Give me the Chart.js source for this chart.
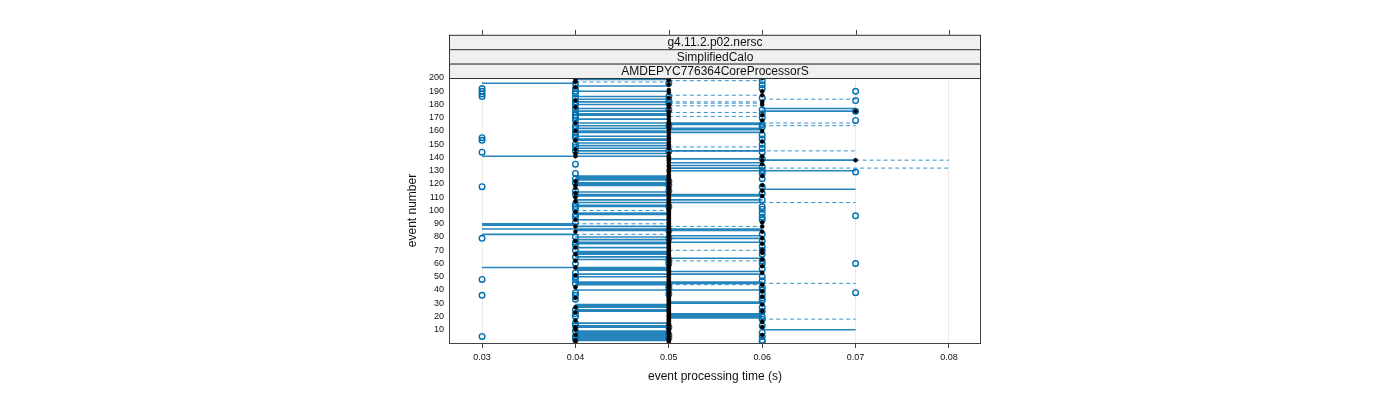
<!DOCTYPE html>
<html>
<head>
<meta charset="utf-8">
<script src="https://cdn.jsdelivr.net/npm/chart.js@4/dist/chart.umd.min.js"></script>
<style>
  html, body { margin: 0; padding: 0; background: #fff; }
  #wrap { width: 1400px; height: 400px; }
</style>
</head>
<body>
<div id="wrap"><canvas id="myChart" width="1400" height="400"></canvas></div>
<script>
// ---- data (event numbers) ----
const stripLabels = ['g4.11.2.p02.nersc', 'SimplifiedCalo', 'AMDEPYC776364CoreProcessorS'];
const xTicks = [0.03, 0.04, 0.05, 0.06, 0.07, 0.08];
const yTicks = [10, 20, 30, 40, 50, 60, 70, 80, 90, 100, 110, 120, 130, 140, 150, 160, 170, 180, 190, 200];

// solid / dashed ranges, by event number
const solid34 = [196, 141, 90, 89, 86, 82, 57];
const solid45 = [199, 194, 190, 186, 184, 182, 180, 177, 175, 173, 172, 169, 166, 164, 162, 160, 159, 156, 154, 153,
  151, 149, 147, 145, 143, 141, 126, 125, 124, 123, 121, 120, 119, 114, 112, 111, 108, 106, 104, 103, 98, 97, 93, 88,
  86, 85, 80, 78, 76, 75, 72, 69, 68, 67, 65, 63, 57, 56, 55, 52, 50, 46, 45, 44, 40, 29, 28, 27, 25, 24, 15, 13, 12,
  9, 8, 7, 6, 5, 4, 3, 2];
const dashed45 = [197, 100, 90, 82];
const solid56 = [166, 165, 162, 161, 159, 145, 139, 136, 134, 132, 130, 112, 111, 108, 106, 86, 85, 81, 79, 76, 64,
  54, 52, 46, 45, 40, 31, 30, 22, 21, 20, 19];
const dashed56 = [198, 187, 182, 181, 179, 174, 171, 148, 88, 70, 62, 44];
const dashed57 = [145];
const solid67 = [177, 175, 138, 130, 116, 10];
const dashed67 = [184, 166, 164, 106, 45, 18];
const dashed78 = [138];
const dashed68 = [132];

// measured points
const open03 = [192, 190, 188, 186, 155, 153, 144, 118, 79, 48, 36, 5];
const open04 = [196, 192, 190, 188, 185, 182, 180, 177, 174, 172, 170, 168, 164, 162, 159, 157, 155, 150, 148, 145,
  135, 128, 124, 121, 115, 112, 105, 103, 101, 97, 95, 91, 80, 76, 74, 70, 65, 60, 53, 50, 48, 45, 38, 36, 33, 25,
  22, 20, 15, 13, 9, 5, 3];
const black04 = [199, 197, 193, 183, 178, 166, 160, 153, 146, 143, 141, 122, 119, 117, 113, 110, 107, 99, 93, 88,
  84, 77, 72, 67, 62, 57, 51, 42, 34, 27, 23, 17, 12, 10, 6, 2, 1];
const open05 = [196, 186, 183, 181, 176, 164, 145, 122, 119, 115, 103, 85, 79, 63, 60, 43, 41, 37, 12, 6, 4];
const black05 = [200, 199, 198, 195, 191, 189, 185, 180, 178, 175, 173, 171, 169, 167, 166, 165, 163, 161, 159, 157,
  155, 154, 152, 150, 149, 147, 143, 141, 140, 139, 138, 136, 134, 133, 131, 130, 129, 127, 126, 125, 124, 123, 121,
  120, 118, 117, 116, 114, 113, 112, 111, 110, 109, 108, 107, 106, 105, 104, 102, 101, 100, 99, 98, 97, 96, 95, 94,
  93, 92, 91, 90, 89, 88, 87, 86, 84, 83, 82, 81, 80, 78, 77, 76, 75, 74, 73, 72, 71, 70, 69, 68, 67, 66, 65, 64,
  62, 61, 59, 58, 57, 56, 55, 54, 53, 52, 51, 50, 49, 48, 47, 46, 45, 44, 42, 40, 39, 38, 36, 35, 34, 33, 32, 31,
  30, 29, 28, 27, 26, 25, 24, 23, 22, 21, 20, 19, 18, 17, 16, 15, 14, 13, 11, 10, 9, 8, 7, 5, 3, 2, 1];
const open06 = [198, 195, 192, 185, 176, 173, 170, 165, 163, 157, 154, 150, 147, 144, 139, 133, 130, 128, 124, 118,
  113, 108, 103, 101, 98, 95, 93, 82, 77, 73, 70, 67, 62, 60, 56, 50, 47, 42, 40, 37, 34, 32, 27, 24, 20, 18, 13, 8,
  5, 2, 1];
const black06 = [200, 190, 187, 182, 180, 172, 168, 160, 152, 141, 138, 135, 126, 119, 115, 111, 91, 88, 84, 79, 75,
  70, 68, 63, 58, 53, 44, 39, 35, 29, 24, 16, 12, 6];
const open07 = [190, 183, 175, 168, 129, 96, 60, 38];
const black07 = [175, 138];

// ---- helpers ----
function seg(events, x0, x1) {
  const out = [];
  events.forEach(e => {
    out.push({ x: x0, y: e }, { x: x1, y: e }, { x: x1, y: null });
  });
  return out;
}
function pts(events, x) {
  return events.map(e => ({ x: x, y: e }));
}

const blue = 'rgba(0,112,176,0.85)';
const blueDash = 'rgba(20,125,195,0.85)';

function lineSet(data, dashed) {
  return {
    type: 'line', data: data, order: 3,
    borderColor: dashed ? blueDash : blue,
    borderWidth: dashed ? 1 : 1.6,
    borderDash: dashed ? [4, 3] : [],
    pointRadius: 0, spanGaps: false, showLine: true
  };
}
function openSet(data) {
  return {
    type: 'scatter', data: data, order: 2,
    pointStyle: 'circle', pointRadius: 2.8,
    pointBorderColor: 'rgba(0,112,176,1)', pointBorderWidth: 1.4,
    pointBackgroundColor: 'rgba(255,255,255,0)'
  };
}
function blackSet(data) {
  return {
    type: 'scatter', data: data, order: 1,
    pointStyle: 'circle', pointRadius: 2,
    pointBorderColor: '#000', pointBorderWidth: 0.5,
    pointBackgroundColor: '#000'
  };
}

const datasets = [
  lineSet(seg(solid34, 0.03, 0.04), false),
  lineSet(seg(solid45, 0.04, 0.05), false),
  lineSet(seg(dashed45, 0.04, 0.05), true),
  lineSet(seg(solid56, 0.05, 0.06), false),
  lineSet(seg(dashed56, 0.05, 0.06), true),
  lineSet(seg(dashed57, 0.05, 0.07), true),
  lineSet(seg(solid67, 0.06, 0.07), false),
  lineSet(seg(dashed67, 0.06, 0.07), true),
  lineSet(seg(dashed78, 0.07, 0.08), true),
  lineSet(seg(dashed68, 0.06, 0.08), true),
  openSet(pts(open03, 0.03)),
  openSet(pts(open04, 0.04)),
  openSet(pts(open05, 0.05)),
  openSet(pts(open06, 0.06)),
  openSet(pts(open07, 0.07)),
  blackSet(pts(black04, 0.04)),
  blackSet(pts(black05, 0.05)),
  blackSet(pts(black06, 0.06)),
  blackSet(pts(black07, 0.07))
];

// strips, frame, top ticks and axis titles
const latticeDecor = {
  id: 'latticeDecor',
  afterDraw(chart) {
    const ctx = chart.ctx;
    const a = chart.chartArea;
    const xs = chart.scales.x;
    ctx.save();
    // frame
    ctx.strokeStyle = '#444';
    ctx.lineWidth = 1;
    ctx.strokeRect(a.left + 0.5, a.top + 0.5, a.right - a.left - 1, a.bottom - a.top);
    // strips
    const sh = 14.4;
    stripLabels.forEach((lab, i) => {
      const y0 = a.top - sh * (stripLabels.length - i);
      ctx.fillStyle = '#f0f0f0';
      ctx.fillRect(a.left, y0, a.right - a.left, sh);
      ctx.strokeStyle = '#333';
      ctx.strokeRect(a.left + 0.5, y0 + 0.5, a.right - a.left - 1, sh);
      ctx.fillStyle = '#111';
      ctx.font = '12px "Liberation Sans", Arial, sans-serif';
      ctx.textAlign = 'center';
      ctx.textBaseline = 'middle';
      ctx.fillText(lab, (a.left + a.right) / 2, y0 + sh / 2 + 1);
    });
    // top ticks
    const topY = a.top - sh * stripLabels.length;
    ctx.strokeStyle = '#444';
    xTicks.forEach(v => {
      const px = Math.round(xs.getPixelForValue(v)) + 0.5;
      ctx.beginPath();
      ctx.moveTo(px, topY);
      ctx.lineTo(px, topY - 5);
      ctx.stroke();
    });
    // axis titles
    ctx.fillStyle = '#111';
    ctx.font = '12px "Liberation Sans", Arial, sans-serif';
    ctx.textAlign = 'center';
    ctx.textBaseline = 'middle';
    ctx.fillText('event processing time (s)', (a.left + a.right) / 2, 377);
    ctx.translate(413, (a.top + a.bottom) / 2);
    ctx.rotate(-Math.PI / 2);
    ctx.fillText('event number', 0, 0);
    ctx.restore();
  }
};

const config = {
  type: 'scatter',
  data: { datasets },
  options: {
    responsive: false,
    animation: false,
    layout: { padding: { left: 409, right: 419, top: 78, bottom: 0 } },
    plugins: { legend: { display: false }, tooltip: { enabled: false } },
    scales: {
      x: {
        type: 'linear', min: 0.02646, max: 0.08343,
        afterBuildTicks: s => { s.ticks = xTicks.map(v => ({ value: v })); },
        afterFit: s => { s.height = 57; },
        border: { display: false },
        grid: { color: 'rgba(0,0,0,0.08)', tickColor: '#444', tickLength: 5, drawOnChartArea: true },
        ticks: {
          color: '#111', padding: 4, maxRotation: 0,
          font: { family: '"Liberation Sans", Arial, sans-serif', size: 9 },
          callback: v => v.toFixed(2)
        }
      },
      y: {
        type: 'linear', min: 0, max: 200,
        afterBuildTicks: s => { s.ticks = yTicks.map(v => ({ value: v })); },
        afterFit: s => { s.width = 40; },
        border: { display: false },
        grid: { display: false, drawTicks: false },
        ticks: {
          color: '#111', padding: 5,
          font: { family: '"Liberation Sans", Arial, sans-serif', size: 9 }
        }
      }
    }
  },
  plugins: [latticeDecor]
};

const myChart = new Chart(document.getElementById('myChart'), config);
</script>
</body>
</html>
